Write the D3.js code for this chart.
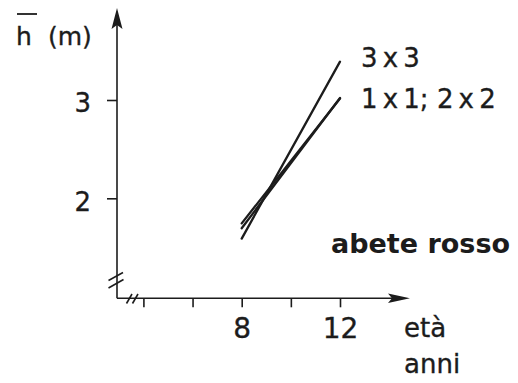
<!DOCTYPE html>
<html>
<head>
<meta charset="utf-8">
<script src="https://cdn.jsdelivr.net/npm/d3@7"></script>
<style>
  html, body { margin: 0; padding: 0; background: #fff; }
  svg { display: block; }
  text { font-family: "DejaVu Sans", "Liberation Sans", sans-serif; fill: #1c1c1c; }
  text.reg { stroke: #1c1c1c; stroke-width: 0.35px; }
</style>
</head>
<body>
<svg id="chart" width="518" height="383"></svg>
<script>
// ---- data ----
const ages = [8, 12];
const seriesNames = ["3x3", "1x1", "2x2"];
const h3x3 = [1.59, 3.39];
const h1x1 = [1.745, 3.015];
const h2x2 = [1.695, 3.02];
const seriesLabels = ["3\u2009x\u20093", "1\u2009x\u20091; 2\u2009x\u20092"];
const xTicks = [4, 6, 8, 10, 12];
const xTickLabels = [8, 12];
const yTicks = [2, 3];
const yTitle = "h";
const yUnit = "(m)";
const xTitle = ["et\u00e0", "anni"];
const speciesLabel = "abete rosso";

// ---- layout ----
const ink = "#1c1c1c";
const svg = d3.select("#chart");
const x = d3.scaleLinear().domain([8, 12]).range([241.7, 340]);
const y = d3.scaleLinear().domain([2, 3]).range([198.3, 100]);
const originX = 117, originY = 298.3;
const yTop = 8, xEnd = 410;

// y axis line
svg.append("line").attr("x1", originX).attr("y1", originY).attr("x2", originX).attr("y2", yTop + 12)
  .attr("stroke", ink).attr("stroke-width", 1.6);
svg.append("path")
  .attr("d", `M${originX},${yTop} L${originX + 5.5},${yTop + 21} L${originX},${yTop + 17} L${originX - 5.5},${yTop + 21} Z`)
  .attr("fill", ink);
// x axis line
svg.append("line").attr("x1", originX).attr("y1", originY).attr("x2", xEnd - 12).attr("y2", originY)
  .attr("stroke", ink).attr("stroke-width", 1.6);
svg.append("path")
  .attr("d", `M${xEnd},${originY} L${xEnd - 22},${originY - 4.8} L${xEnd - 18},${originY} L${xEnd - 22},${originY + 4.8} Z`)
  .attr("fill", ink);

// axis break marks
const breaks = svg.append("g").attr("stroke", ink).attr("stroke-width", 1.6).attr("fill", "none");
breaks.append("line").attr("x1", 108.5).attr("y1", 280.5).attr("x2", 123).attr("y2", 272.5);
breaks.append("line").attr("x1", 108.5).attr("y1", 288).attr("x2", 123.5).attr("y2", 279.5);
breaks.append("line").attr("x1", 126.5).attr("y1", 303.5).attr("x2", 132).attr("y2", 294);
breaks.append("line").attr("x1", 132.5).attr("y1", 303.5).attr("x2", 138).attr("y2", 294);

// y axis ticks
const yAxis = d3.axisLeft(y).tickValues(yTicks).tickSize(10).tickPadding(16).tickFormat(d3.format("d"));
const gy = svg.append("g").attr("transform", `translate(${originX},0)`).call(yAxis);
gy.select(".domain").remove();
gy.selectAll("line").attr("stroke", ink).attr("stroke-width", 1.6);
gy.selectAll("text").attr("class", "reg").attr("font-size", 26).attr("dy", "0.45em").attr("fill", ink)
  .style("font-family", '"DejaVu Sans", sans-serif');

// x axis ticks
const xAxis = d3.axisBottom(x).tickValues(xTicks).tickSize(9).tickPadding(11)
  .tickFormat(d => xTickLabels.includes(d) ? d : "");
const gx = svg.append("g").attr("transform", `translate(0,${originY})`).call(xAxis);
gx.select(".domain").remove();
gx.selectAll("line").attr("stroke", ink).attr("stroke-width", 1.6);
gx.selectAll("text").attr("class", "reg").attr("font-size", 28).attr("fill", ink)
  .style("font-family", '"DejaVu Sans", sans-serif');

// series lines
const line = d3.line().x(d => x(d[0])).y(d => y(d[1]));
const allSeries = [h3x3, h1x1, h2x2];
svg.append("g").selectAll("path").data(allSeries).join("path")
  .attr("d", vals => line(ages.map((a, i) => [a, vals[i]])))
  .attr("fill", "none").attr("stroke", ink).attr("stroke-width", 2.3).attr("stroke-linecap", "round")
  .attr("class", (d, i) => "series-" + seriesNames[i]);

// series labels
svg.append("text").attr("class", "reg").attr("x", 361).attr("y", y(h3x3[1]) + 5.5).attr("font-size", 26).text(seriesLabels[0]);
svg.append("text").attr("class", "reg").attr("x", 361).attr("y", y(h1x1[1]) + 9).attr("font-size", 26).text(seriesLabels[1]);

// y title
const yt = svg.append("text").attr("class", "reg").attr("y", 45).attr("font-size", 25);
yt.append("tspan").attr("x", 16).text(yTitle);
yt.append("tspan").attr("x", 48).text(yUnit);
svg.append("line").attr("x1", 17).attr("x2", 37).attr("y1", 14).attr("y2", 14)
  .attr("stroke", ink).attr("stroke-width", 1.8);

// x title
svg.append("text").attr("class", "reg").attr("x", 404).attr("y", 337).attr("font-size", 26).text(xTitle[0]);
svg.append("text").attr("class", "reg").attr("x", 404).attr("y", 373).attr("font-size", 26).text(xTitle[1]);

// species label
svg.append("text").attr("x", 331).attr("y", 253).attr("font-size", 27).attr("font-weight", "bold")
  .text(speciesLabel);
</script>
</body>
</html>
